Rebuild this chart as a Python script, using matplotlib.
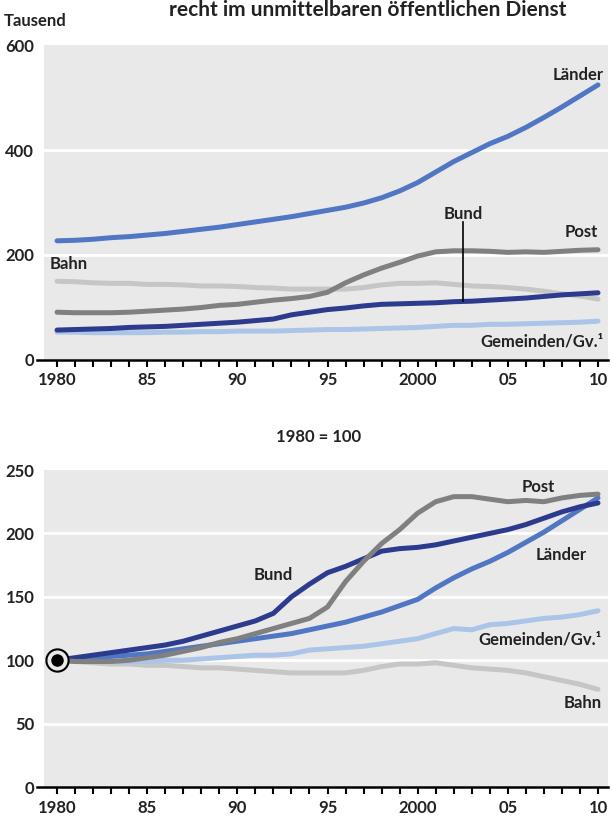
import numpy as np
import matplotlib
matplotlib.use("Agg")
import matplotlib.pyplot as plt

# Data

years = list(range(1980, 2011))

# absolute values, thousand
laender_abs = [227, 228, 230, 233, 235, 238, 241, 245, 249, 253, 258, 263, 268, 273, 279, 285,
               291, 299, 309, 322, 338, 358, 378, 395, 412, 426, 443, 462, 482, 503, 524]
bund_abs = [57, 58, 59, 60, 62, 63, 64, 66, 68, 70, 72, 75, 78, 86, 91, 96,
            99, 103, 106, 107, 108, 109, 111, 112, 114, 116, 118, 121, 124, 126, 128]
post_abs = [91, 90, 90, 90, 91, 93, 95, 97, 100, 104, 106, 110, 114, 117, 121, 129,
            147, 162, 175, 186, 198, 206, 208, 208, 207, 205, 206, 205, 207, 209, 210]
gem_abs = [53, 53, 52, 52, 52, 52, 53, 53, 54, 54, 55, 55, 55, 56, 57, 58,
           58, 59, 60, 61, 62, 64, 66, 66, 68, 68, 69, 70, 71, 72, 74]
bahn_abs = [150, 149, 147, 146, 146, 144, 144, 143, 141, 141, 140, 138, 137, 135, 135, 135,
            135, 138, 143, 146, 146, 147, 144, 141, 140, 138, 135, 131, 126, 122, 116]

# index, 1980 = 100
laender_idx = [100, 101, 102, 103, 104, 105, 107, 109, 111, 113, 115, 117, 119, 121, 124, 127,
               130, 134, 138, 143, 148, 157, 165, 172, 178, 185, 193, 201, 210, 219, 228]
bund_idx = [100, 102, 104, 106, 108, 110, 112, 115, 119, 123, 127, 131, 137, 150, 160, 169,
            174, 180, 186, 188, 189, 191, 194, 197, 200, 203, 207, 212, 217, 221, 224]
post_idx = [100, 99, 99, 99, 100, 102, 104, 107, 110, 114, 117, 121, 125, 129, 133, 142,
            162, 178, 192, 203, 216, 225, 229, 229, 227, 225, 226, 225, 228, 230, 231]
gem_idx = [100, 100, 99, 99, 99, 99, 100, 100, 101, 102, 103, 104, 104, 105, 108, 109,
           110, 111, 113, 115, 117, 121, 125, 124, 128, 129, 131, 133, 134, 136, 139]
bahn_idx = [100, 99, 98, 97, 97, 96, 96, 95, 94, 94, 93, 92, 91, 90, 90, 90,
            90, 92, 95, 97, 97, 98, 96, 94, 93, 92, 90, 87, 84, 81, 77]

xtick_pos = [1980, 1985, 1990, 1995, 2000, 2005, 2010]
xtick_labels = ["1980", "85", "90", "95", "2000", "05", "10"]

# Colours

c_laender = "#5177c4"
c_bund = "#2c3b8e"
c_post = "#808080"
c_bahn = "#c6c6c6"
c_gem = "#abc5e8"
bg = "#e9e9e9"
txt = "#222222"

plt.rcParams["font.family"] = ["Lato", "DejaVu Sans"]
plt.rcParams["font.weight"] = "bold"
plt.rcParams["text.color"] = txt

fig = plt.figure(figsize=(6.12, 8.23), dpi=100)
ax1 = fig.add_axes([0.072, 0.5626, 0.9216, 0.3827])
ax2 = fig.add_axes([0.072, 0.0437, 0.9216, 0.3852])

lw = 3.6
fs = 12


def style_axis(ax, yticks, ylim):
    ax.set_facecolor(bg)
    ax.set_xlim(1979.28, 2010.56)
    ax.set_ylim(*ylim)
    ax.set_yticks(yticks)
    ax.set_yticklabels([str(t) for t in yticks], fontsize=fs, fontweight="bold", color=txt)
    for t in yticks:
        if ylim[0] < t < ylim[1]:
            ax.axhline(t, color="white", lw=2, zorder=1)
    ax.set_xticks(years)
    ax.set_xticklabels([xtick_labels[xtick_pos.index(y)] if y in xtick_pos else "" for y in years],
                       fontsize=fs, fontweight="bold", color=txt)
    ax.tick_params(axis="x", direction="out", length=5, width=1.5, color="black", pad=4)
    ax.tick_params(axis="y", length=0, pad=7)
    for s in ["top", "right", "left"]:
        ax.spines[s].set_visible(False)
    ax.spines["bottom"].set_linewidth(1.8)
    ax.spines["bottom"].set_color("black")
    ax.spines["bottom"].set_bounds(1978.9, 2010.56)
    ax.spines["bottom"].set_zorder(5)


# Top panel: absolute numbers

style_axis(ax1, [0, 200, 400, 600], (0, 600))
ax1.plot(years, gem_abs, color=c_gem, lw=lw, solid_capstyle="round", zorder=3)
ax1.plot(years, bahn_abs, color=c_bahn, lw=lw, solid_capstyle="round", zorder=3)
ax1.plot(years, post_abs, color=c_post, lw=lw, solid_capstyle="round", zorder=3)
ax1.plot(years, bund_abs, color=c_bund, lw=lw, solid_capstyle="round", zorder=3)
ax1.plot(years, laender_abs, color=c_laender, lw=lw, solid_capstyle="round", zorder=3)

ax1.text(2010.3, 543, "Länder", ha="right", va="center", fontsize=fs, fontweight="bold")
ax1.text(2002.5, 279, "Bund", ha="center", va="center", fontsize=fs, fontweight="bold")
ax1.plot([2002.5, 2002.5], [262, 112], color="black", lw=1.2, zorder=4)
ax1.text(2010.0, 243, "Post", ha="right", va="center", fontsize=fs, fontweight="bold")
ax1.text(1979.6, 182, "Bahn", ha="left", va="center", fontsize=fs, fontweight="bold")
ax1.text(2010.3, 35, "Gemeinden/Gv.¹", ha="right", va="center", fontsize=fs, fontweight="bold")

fig.text(0.006, 0.975, "Tausend", ha="left", va="center", fontsize=fs, fontweight="bold")
fig.text(0.60, 0.980, "recht im unmittelbaren öffentlichen Dienst", ha="center", va="baseline",
         fontsize=15, fontweight="bold")

# Bottom panel: index

style_axis(ax2, [0, 50, 100, 150, 200, 250], (0, 250))
ax2.plot(years, bahn_idx, color=c_bahn, lw=lw, solid_capstyle="round", zorder=3)
ax2.plot(years, gem_idx, color=c_gem, lw=lw, solid_capstyle="round", zorder=3)
ax2.plot(years, laender_idx, color=c_laender, lw=lw, solid_capstyle="round", zorder=3)
ax2.plot(years, bund_idx, color=c_bund, lw=lw, solid_capstyle="round", zorder=3)
ax2.plot(years, post_idx, color=c_post, lw=lw, solid_capstyle="round", zorder=3)

ax2.plot([1980], [100], marker="o", ms=16, mfc=bg, mec="black", mew=1.5, zorder=6)
ax2.plot([1980], [100], marker="o", ms=8, mfc="black", mec="black", zorder=7)

ax2.text(2006.7, 237, "Post", ha="center", va="center", fontsize=fs, fontweight="bold")
ax2.text(2009.4, 183, "Länder", ha="right", va="center", fontsize=fs, fontweight="bold")
ax2.text(1992.0, 167, "Bund", ha="center", va="center", fontsize=fs, fontweight="bold")
ax2.text(2010.2, 116, "Gemeinden/Gv.¹", ha="right", va="center", fontsize=fs, fontweight="bold")
ax2.text(2010.2, 66, "Bahn", ha="right", va="center", fontsize=fs, fontweight="bold")

fig.text(0.52, 0.469, "1980 = 100", ha="center", va="center", fontsize=fs, fontweight="bold")

fig.savefig("out.png", dpi=100)
